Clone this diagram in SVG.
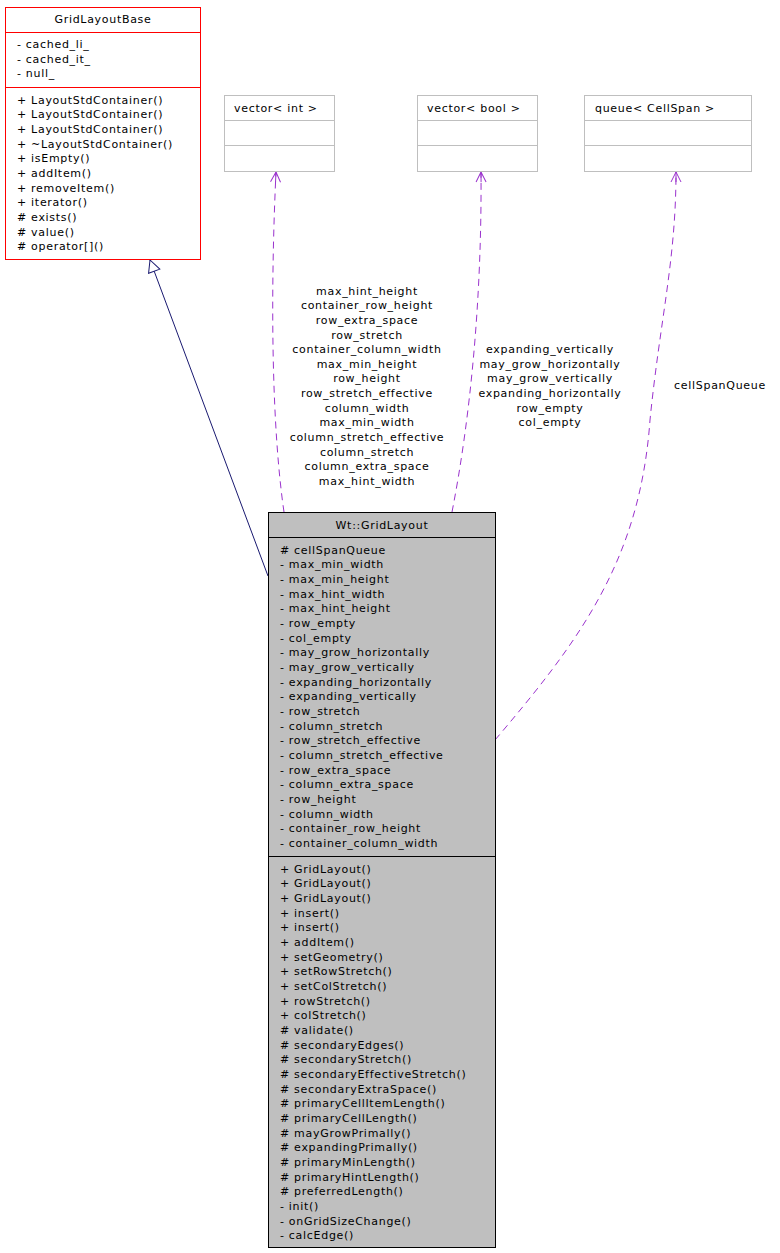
<svg xmlns="http://www.w3.org/2000/svg" width="780" height="1253" viewBox="0 0 780 1253">
<style>
text{font-family:"DejaVu Sans",sans-serif;font-size:11px;letter-spacing:0.7px;fill:#000}
.c{text-anchor:middle}
.g{fill:none;stroke:#bfbfbf}
.r{fill:#fff;stroke:#ff0000}
.dash{fill:none;stroke:#9a32cd;stroke-dasharray:7,5}
</style>
<defs>
<marker id="open" markerWidth="12" markerHeight="12" refX="11" refY="6" orient="auto" markerUnits="userSpaceOnUse"><path d="M1,1 L11,6 L1,11 M11,6 L1,6" fill="none" stroke="#9a32cd"/></marker>
<marker id="tri" markerWidth="14" markerHeight="14" refX="13" refY="7" orient="auto" markerUnits="userSpaceOnUse"><path d="M1,1 L13,7 L1,13 Z" fill="#fff" stroke="#191970"/></marker>
</defs>
<rect width="780" height="1253" fill="#fff"/>
<g id="connectors">
<path d="M268,576 L150,260" fill="none" stroke="#191970" marker-end="url(#tri)"/>
<path class="dash" d="M284,512 C272,430 270,300 276,172" marker-end="url(#open)"/>
<path class="dash" d="M452,512 C470,420 482,300 481,172" marker-end="url(#open)"/>
<path class="dash" d="M495,740 C580,640 640,560 650,420 C660,320 676,260 676,172" marker-end="url(#open)"/>
<g class="c">
<text x="367" y="295">max_hint_height</text>
<text x="367" y="309">container_row_height</text>
<text x="367" y="324">row_extra_space</text>
<text x="367" y="339">row_stretch</text>
<text x="367" y="353">container_column_width</text>
<text x="367" y="368">max_min_height</text>
<text x="367" y="382">row_height</text>
<text x="367" y="397">row_stretch_effective</text>
<text x="367" y="412">column_width</text>
<text x="367" y="426">max_min_width</text>
<text x="367" y="441">column_stretch_effective</text>
<text x="367" y="456">column_stretch</text>
<text x="367" y="470">column_extra_space</text>
<text x="367" y="485">max_hint_width</text>
<text x="550" y="353">expanding_vertically</text>
<text x="550" y="368">may_grow_horizontally</text>
<text x="550" y="382">may_grow_vertically</text>
<text x="550" y="397">expanding_horizontally</text>
<text x="550" y="412">row_empty</text>
<text x="550" y="426">col_empty</text>
<text x="720" y="389">cellSpanQueue</text>
</g>
</g>
<g id="GridLayoutBase">
<rect class="r" x="5.5" y="7.5" width="195" height="252"/>
<path d="M5.5,32.5 H200.5 M5.5,87.5 H200.5" stroke="#ff0000"/>
<text class="c" x="103" y="23">GridLayoutBase</text>
<text x="17" y="48">- cached_li_</text>
<text x="17" y="63">- cached_it_</text>
<text x="17" y="77">- null_</text>
<text x="17" y="104">+ LayoutStdContainer()</text>
<text x="17" y="118">+ LayoutStdContainer()</text>
<text x="17" y="133">+ LayoutStdContainer()</text>
<text x="17" y="148">+ ~LayoutStdContainer()</text>
<text x="17" y="162">+ isEmpty()</text>
<text x="17" y="177">+ addItem()</text>
<text x="17" y="192">+ removeItem()</text>
<text x="17" y="206">+ iterator()</text>
<text x="17" y="221">#  exists()</text>
<text x="17" y="236">#  value()</text>
<text x="17" y="250">#  operator[]()</text>
</g>
<g id="vector_int">
<rect class="g" x="224.5" y="95.5" width="110" height="76"/>
<path class="g" d="M224.5,120.5 H334.5 M224.5,145.5 H334.5"/>
<text x="234" y="112">vector&lt; int &gt;</text>
</g>
<g id="vector_bool">
<rect class="g" x="417.5" y="95.5" width="120" height="76"/>
<path class="g" d="M417.5,120.5 H537.5 M417.5,145.5 H537.5"/>
<text x="427" y="112">vector&lt; bool &gt;</text>
</g>
<g id="queue_CellSpan">
<rect class="g" x="584.5" y="95.5" width="167" height="76"/>
<path class="g" d="M584.5,120.5 H751.5 M584.5,145.5 H751.5"/>
<text x="595" y="112">queue&lt; CellSpan &gt;</text>
</g>
<g id="GridLayout">
<rect x="268.5" y="512.5" width="227" height="735" fill="#bfbfbf" stroke="#000"/>
<path d="M268.5,537.5 H495.5 M268.5,856.5 H495.5" stroke="#000"/>
<text class="c" x="382" y="529">Wt::GridLayout</text>
<g transform="translate(280,0)">
<text y="554">#  cellSpanQueue</text>
<text y="568">- max_min_width</text>
<text y="583">- max_min_height</text>
<text y="598">- max_hint_width</text>
<text y="612">- max_hint_height</text>
<text y="627">- row_empty</text>
<text y="642">- col_empty</text>
<text y="656">- may_grow_horizontally</text>
<text y="671">- may_grow_vertically</text>
<text y="686">- expanding_horizontally</text>
<text y="700">- expanding_vertically</text>
<text y="715">- row_stretch</text>
<text y="730">- column_stretch</text>
<text y="744">- row_stretch_effective</text>
<text y="759">- column_stretch_effective</text>
<text y="774">- row_extra_space</text>
<text y="788">- column_extra_space</text>
<text y="803">- row_height</text>
<text y="818">- column_width</text>
<text y="832">- container_row_height</text>
<text y="847">- container_column_width</text>
<text y="873">+ GridLayout()</text>
<text y="887">+ GridLayout()</text>
<text y="902">+ GridLayout()</text>
<text y="917">+ insert()</text>
<text y="931">+ insert()</text>
<text y="946">+ addItem()</text>
<text y="961">+ setGeometry()</text>
<text y="975">+ setRowStretch()</text>
<text y="990">+ setColStretch()</text>
<text y="1005">+ rowStretch()</text>
<text y="1019">+ colStretch()</text>
<text y="1034">#  validate()</text>
<text y="1049">#  secondaryEdges()</text>
<text y="1063">#  secondaryStretch()</text>
<text y="1078">#  secondaryEffectiveStretch()</text>
<text y="1093">#  secondaryExtraSpace()</text>
<text y="1107">#  primaryCellItemLength()</text>
<text y="1122">#  primaryCellLength()</text>
<text y="1137">#  mayGrowPrimally()</text>
<text y="1151">#  expandingPrimally()</text>
<text y="1166">#  primaryMinLength()</text>
<text y="1181">#  primaryHintLength()</text>
<text y="1195">#  preferredLength()</text>
<text y="1210">- init()</text>
<text y="1225">- onGridSizeChange()</text>
<text y="1239">- calcEdge()</text>
</g>
</g>
</svg>
